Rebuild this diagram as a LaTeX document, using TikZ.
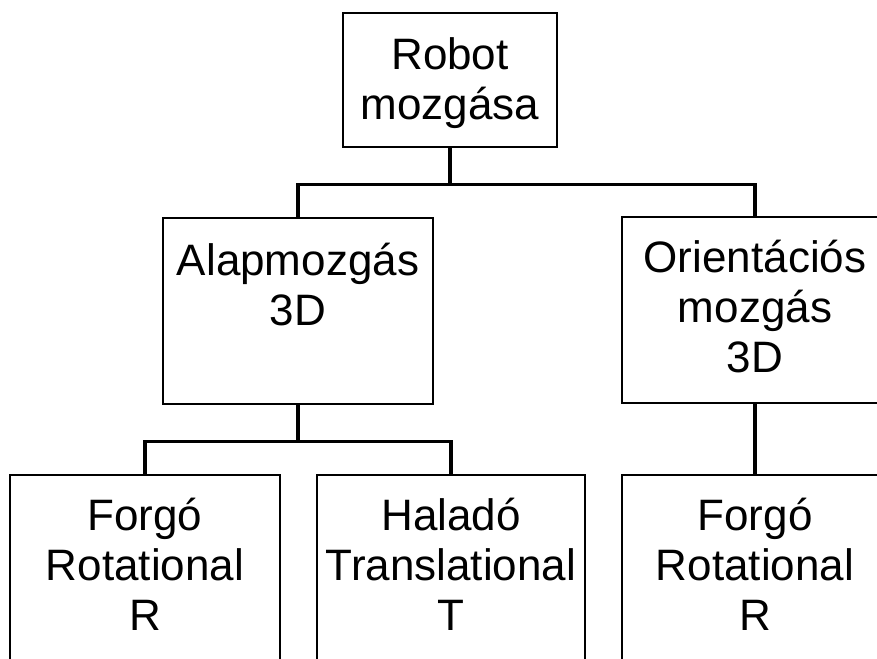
\documentclass[tikz,border=0pt]{standalone}
\usepackage{fontspec}
\setmainfont{Liberation Sans}
\usetikzlibrary{positioning}
\tikzstyle{box} =
  [ rectangle
  , draw
  , line width=2.6pt
  , inner sep=0pt
  ]
\tikzstyle{boxtext} =
  [ align=center
  , inner sep=0pt
  , font=\fontsize{44}{50}\selectfont
  ]
\tikzstyle{link} =
  [ line width=3.4pt
  ]
\begin{document}
\begin{tikzpicture}[x=1pt,y=-1pt]
    \useasboundingbox (0,0) rectangle (877,658);
    \clip (0,0) rectangle (877,658);

    % Top level
    \node[box, minimum width=214pt, minimum height=134pt] (root) at (450,80) {};
    \node[boxtext, below=26pt of root.north] (root_text) {Robot\\mozgása};

    % Second level
    \node[box, minimum width=270pt, minimum height=186pt] (alap)   at (298,311) {};
    \node[box, minimum width=266pt, minimum height=186pt] (orient) at (755,310) {};
    \node[boxtext, below=26pt of alap.north]   (alap_text)   {Alapmozgás\\3D};
    \node[boxtext, below=24pt of orient.north] (orient_text) {Orientációs\\mozgás\\3D};
    \draw[link] (root.south) -- ++(0,36) -| (alap.north);
    \draw[link] (root.south) -- ++(0,36) -| (orient.north);

    % Joint types
    \node[box, minimum width=270pt, minimum height=190pt] (forgo_alap)   at (145,570) {};
    \node[box, minimum width=268pt, minimum height=190pt] (halado)       at (451,570) {};
    \node[box, minimum width=266pt, minimum height=190pt] (forgo_orient) at (755,570) {};
    \node[boxtext, below=24pt of forgo_alap.north]   (forgo_alap_text)   {Forgó\\Rotational\\R};
    \node[boxtext, below=24pt of halado.north]       (halado_text)       {Haladó\\Translational\\T};
    \node[boxtext, below=24pt of forgo_orient.north] (forgo_orient_text) {Forgó\\Rotational\\R};
    \draw[link] (alap.south) -- ++(0,36) -| (forgo_alap.north);
    \draw[link] (alap.south) -- ++(0,36) -| (halado.north);
    \draw[link] (orient.south) -- (forgo_orient.north);
\end{tikzpicture}
\end{document}
